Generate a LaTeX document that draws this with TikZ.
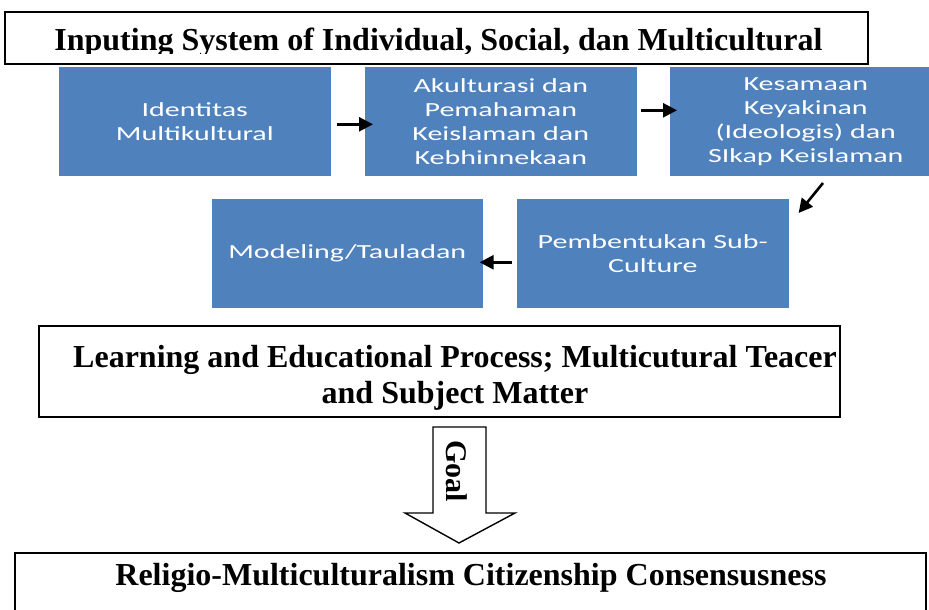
\documentclass[tikz,border=0pt]{standalone}
\usepackage{fontspec}
\setmainfont{Liberation Serif}
\newfontfamily\boxfont[FakeStretch=1.5]{Carlito}
\usetikzlibrary{arrows.meta}
\definecolor{boxblue}{HTML}{4F81BD}
\tikzset{
  bluebox/.style={fill=boxblue, draw=white, line width=0.6pt, anchor=north west, inner sep=0pt,
    text=white, align=center, font=\boxfont\fontsize{20}{24}\selectfont},
  framebox/.style={draw=black, line width=1.6pt, fill=white},
  titletext/.style={font=\bfseries\fontsize{32}{36}\selectfont, inner sep=0pt, anchor=base},
  arr/.style={line width=2.6pt, -{Triangle[length=14pt,width=14pt]}},
}
\begin{document}
\begin{tikzpicture}[x=1pt,y=-1pt]
\useasboundingbox (0,0) rectangle (929,610);
\clip (0,0) rectangle (929,610);
% top frame
\draw[framebox] (5,12) rectangle (868,64);
\begin{scope}
\clip (0,0) rectangle (929,54);
\node[titletext] (title) at (438.5,51) {Inputing System of Individual, Social, dan Multicultural};
\end{scope}
% blue boxes
\node[bluebox, minimum width=273pt, minimum height=110pt] (b1) at (58,66) {Identitas\\Multikultural};
\node[bluebox, minimum width=273pt, minimum height=110pt] (b2) at (364,66) {Akulturasi dan\\Pemahaman\\Keislaman dan\\Kebhinnekaan};
\node[bluebox, minimum width=273pt, minimum height=110pt] (b3) at (669,66) {Kesamaan\\Keyakinan\\(Ideologis) dan\\SIkap Keislaman};
\node[bluebox, minimum width=272pt, minimum height=110pt] (b4) at (211,198) {Modeling/Tauladan};
\node[bluebox, minimum width=273pt, minimum height=110pt] (b5) at (516,198) {Pembentukan Sub-\\Culture};
% arrows
\draw[arr] ([xshift=5pt,yshift=-3pt]b1.east) -- ([xshift=9pt,yshift=-3pt]b2.west);
\draw[arr] ([xshift=3pt,yshift=11pt]b2.east) -- ([xshift=8pt,yshift=11pt]b3.west);
\coordinate (dtail) at (823,183);
\draw[arr] (dtail) -- ([xshift=9pt,yshift=-15pt]b5.north east);
\draw[arr] ([xshift=-4pt,yshift=-9pt]b5.west) -- ([xshift=-4pt,yshift=-9pt]b4.east);
% learning frame
\node[framebox, anchor=north west, minimum width=801pt, minimum height=91pt, inner sep=0pt] (learn) at (38,325) {};
\node[titletext] (l1) at (455,367) {Learning and Educational Process; Multicutural Teacer};
\node[titletext] (l2) at (455,403) {and Subject Matter};
% goal arrow
\draw[line width=1.4pt, fill=white, line join=miter] (433,427) -- (486,427) -- (486,513) -- (515,513) -- (459,543) -- (405,513) -- (433,513) -- cycle;
\node[font=\bfseries\fontsize{30}{36}\selectfont, rotate=-90, inner sep=0pt] (goal) at (457,471) {Goal};
% bottom frame
\draw[framebox] (15,553) rectangle (926,640);
\node[titletext] (res) at (471,585) {Religio-Multiculturalism Citizenship Consensusness};
\end{tikzpicture}
\end{document}
